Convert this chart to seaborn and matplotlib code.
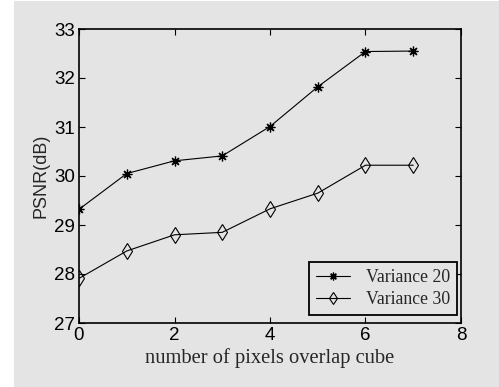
import pandas as pd
import seaborn as sns
import matplotlib.pyplot as plt
from matplotlib.patches import Rectangle

sns.set_style("ticks")

# data
overlap = [0, 1, 2, 3, 4, 5, 6, 7]
psnr_var20 = [29.32, 30.05, 30.31, 30.41, 31.01, 31.82, 32.54, 32.55]
psnr_var30 = [27.91, 28.47, 28.80, 28.85, 29.33, 29.65, 30.22, 30.22]
x_ticks = [0, 2, 4, 6, 8]
y_ticks = [27, 28, 29, 30, 31, 32, 33]

bg = "#e4e4e4"
plt.rcParams['font.family'] = ['Liberation Sans', 'DejaVu Sans']

fig = plt.figure(figsize=(4.99, 3.87), dpi=100, facecolor="white")
# grey panel (white strip on the left like the scan)
fig.patches.append(Rectangle((14 / 499, 0), 1, 1 - 1 / 387, transform=fig.transFigure,
                             facecolor=bg, edgecolor="none", zorder=-10))
ax = fig.add_axes([79 / 499, 1 - 323 / 387, 382 / 499, 294 / 387])
ax.set_facecolor(bg)

df20 = pd.DataFrame({'x': overlap, 'y': psnr_var20})
df30 = pd.DataFrame({'x': overlap, 'y': psnr_var30})

sns.lineplot(data=df20, x='x', y='y', ax=ax, color='black', linewidth=0.8,
             marker=(8, 2, 0), markersize=7, markeredgewidth=0.9,
             markeredgecolor='black', label='Variance 20')
sns.lineplot(data=df30, x='x', y='y', ax=ax, color='black', linewidth=0.8,
             marker='d', markersize=8, markerfacecolor='none',
             markeredgecolor='black', markeredgewidth=0.8, label='Variance 30')

ax.set_xlim(0, 8)
ax.set_ylim(27, 33)
ax.set_xticks(x_ticks)
ax.set_yticks(y_ticks)
ax.tick_params(direction='in', top=True, right=True, length=4, width=0.8,
               labelsize=13.5, pad=3, colors='black')
for s in ax.spines.values():
    s.set_visible(True)
    s.set_linewidth(1.2)
    s.set_color('black')

ax.set_xlabel('number of pixels overlap cube', fontsize=14.8,
              family=['Liberation Serif', 'DejaVu Serif'], labelpad=3)
ax.set_ylabel('PSNR(dB)', fontsize=13, labelpad=3)

leg = ax.legend(loc='lower right', bbox_to_anchor=(378 / 382, 8 / 294),
                borderaxespad=0, frameon=True, fancybox=False,
                prop={'family': 'Liberation Serif', 'size': 12.8},
                borderpad=0.4, handlelength=1.9, handletextpad=0.9,
                labelspacing=0.25, markerscale=0.8)
leg.get_frame().set_edgecolor('black')
leg.get_frame().set_linewidth(1.3)
leg.get_frame().set_facecolor(bg)
leg.get_frame().set_alpha(1)

fig.savefig('out.png', dpi=100, facecolor=fig.get_facecolor())
